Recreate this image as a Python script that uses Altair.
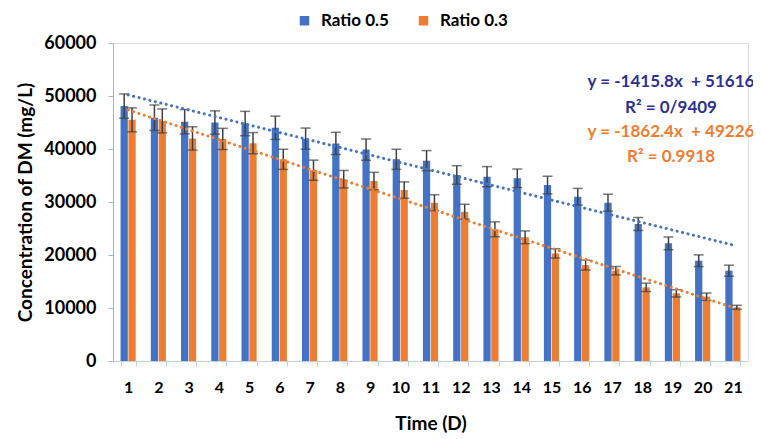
import altair as alt
import pandas as pd

days = [1, 2, 3, 4, 5, 6, 7, 8, 9, 10, 11, 12, 13, 14, 15, 16, 17, 18, 19, 20, 21]
series_names = ["Ratio 0.5", "Ratio 0.3"]
ratio05 = [48100, 45900, 45150, 45000, 44800, 44000, 41950, 41050, 39900, 38050, 37800,
           35100, 34780, 34470, 33200, 31000, 29870, 25850, 22200, 18920, 17040]
ratio05_err = [2300, 2400, 2300, 2200, 2300, 2200, 2000, 2100, 2000, 1900, 1900,
               1750, 1900, 1750, 1660, 1570, 1600, 1230, 1200, 1100, 1040]
ratio03 = [45500, 45300, 42000, 41900, 41100, 38050, 36000, 34300, 33950, 32250, 29870,
           28170, 24850, 23340, 20300, 18100, 17040, 13900, 12770, 12130, 10130]
ratio03_err = [2260, 2260, 2200, 2000, 2000, 1900, 1900, 1650, 1650, 1550, 1500,
               1400, 1400, 1200, 880, 940, 790, 790, 690, 690, 380]

# trend line end points (day 1 and day 21)
trend_days = [1, 21]
trend05 = [50200, 21884]
trend03 = [47364, 10116]

eq_texts = ["y = -1415.8x \u00a0+ 51616", "R\u00b2 = 0/9409", "y = -1862.4x \u00a0+ 49226", "R\u00b2 = 0.9918"]

BLUE = "#4472C4"
ORANGE = "#ED7D31"
NAVY = "#2E3192"
FONT = "Lato"

rows = []
for d, v, e in zip(days, ratio05, ratio05_err):
    rows.append({"day": d, "series": "Ratio 0.5", "value": v, "low": v - e, "high": v + e})
for d, v, e in zip(days, ratio03, ratio03_err):
    rows.append({"day": d, "series": "Ratio 0.3", "value": v, "low": v - e, "high": v + e})
df = pd.DataFrame(rows)

trend_rows = []
for d, v in zip(trend_days, trend05):
    trend_rows.append({"day": d, "series": "Ratio 0.5", "value": v})
for d, v in zip(trend_days, trend03):
    trend_rows.append({"day": d, "series": "Ratio 0.3", "value": v})
tdf = pd.DataFrame(trend_rows)

x_enc = alt.X(
    "day:O",
    scale=alt.Scale(domain=days, paddingInner=0.5, paddingOuter=0.25),
    axis=alt.Axis(
        title="Time (D)", labelAngle=0, labelFont=FONT, labelFontSize=16, labelFontWeight="bold",
        labelColor="black", labelPadding=13, titleFont=FONT, titleFontSize=19, titleFontWeight="bold",
        titleColor="black", titlePadding=19, domainColor="#C5CFE3", tickColor="#C5CFE3",
        tickBand="extent", tickSize=5,
    ),
)
y_scale = alt.Scale(domain=[0, 60000], nice=False)
y_axis = alt.Axis(
    title="Concentration of DM (mg/L)", values=[0, 10000, 20000, 30000, 40000, 50000, 60000],
    format="d", grid=False, labelFont=FONT, labelFontSize=18, labelFontWeight="bold",
    labelColor="black", labelPadding=12, titleFont=FONT, titleFontSize=19, titleFontWeight="bold",
    titleColor="black", titlePadding=8, domainColor="#9FB2D9", tickColor="#9FB2D9", tickSize=5,
)
xoff = alt.XOffset("series:N", scale=alt.Scale(domain=series_names, paddingInner=0.08))

bars = alt.Chart(df).mark_bar().encode(
    x=x_enc,
    xOffset=xoff,
    y=alt.Y("value:Q", scale=y_scale, axis=y_axis),
    color=alt.Color(
        "series:N",
        scale=alt.Scale(domain=series_names, range=[BLUE, ORANGE]),
        legend=alt.Legend(
            title=None, orient="none", direction="horizontal", legendX=183, legendY=-31,
            symbolType="square", symbolSize=90, symbolStrokeWidth=0, labelFont=FONT,
            labelFontSize=17, labelFontWeight="bold", labelColor="black", columnPadding=26,
            labelOffset=8, labelLimit=200,
        ),
    ),
)

err_rule = alt.Chart(df).mark_rule(color="#404040", strokeWidth=1.5).encode(
    x="day:O", xOffset=xoff, y="low:Q", y2="high:Q"
)
cap_lo = alt.Chart(df).mark_tick(color="#404040", thickness=1.5, size=10).encode(
    x="day:O", xOffset=xoff, y="low:Q"
)
cap_hi = alt.Chart(df).mark_tick(color="#404040", thickness=1.5, size=10).encode(
    x="day:O", xOffset=xoff, y="high:Q"
)

trend_layers = []
for name, col in [("Ratio 0.5", "#4472C4"), ("Ratio 0.3", ORANGE)]:
    trend_layers.append(
        alt.Chart(tdf).transform_filter(alt.datum.series == name).mark_line(
            color=col, strokeWidth=3, strokeDash=[0.1, 5.5], strokeCap="round"
        ).encode(x="day:O", y="value:Q")
    )

text_specs = [(eq_texts[0], NAVY, 39), (eq_texts[1], NAVY, 65), (eq_texts[2], ORANGE, 89), (eq_texts[3], ORANGE, 114)]
text_layers = []
for t, c, yy in text_specs:
    text_layers.append(
        alt.Chart(pd.DataFrame({"t": [t]})).mark_text(
            font=FONT, fontSize=17, fontWeight="bold", color=c, align="center", baseline="middle"
        ).encode(text="t:N", x=alt.value(558), y=alt.value(yy))
    )

chart = alt.layer(bars, err_rule, cap_lo, cap_hi, *trend_layers, *text_layers).properties(
    width=635, height=318,
    autosize=alt.AutoSizeParams(type="none"),
    padding={"left": 105, "top": 35, "right": 5, "bottom": 85},
).configure_view(stroke=None).configure(background="white")

chart.save("out.html", embed_options={"renderer": "svg", "actions": False})
